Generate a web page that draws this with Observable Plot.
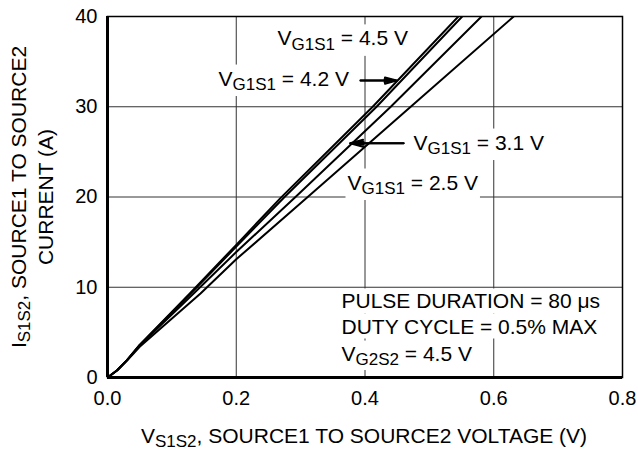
<!DOCTYPE html>
<html><head><meta charset="utf-8">
<script src="https://cdn.jsdelivr.net/npm/d3@7"></script>
<script src="https://cdn.jsdelivr.net/npm/@observablehq/plot@0.6"></script>
<style>body{margin:0;background:#fff}svg{display:block}</style>
</head><body><div id="chart"></div>
<script>
// Output characteristics: I_S1S2 vs V_S1S2 for several V_G1S1
const vgs = ["4.5", "4.2", "3.1", "2.5"];
const v_45 = [0, 0.015, 0.03, 0.05, 0.129, 0.2, 0.269, 0.412, 0.545];
const i_45 = [0, 0.8, 1.9, 3.6, 9.4, 14.7, 19.9, 30, 40];
const v_42 = [0, 0.015, 0.03, 0.05, 0.13, 0.2, 0.275, 0.418, 0.551];
const i_42 = [0, 0.8, 1.9, 3.6, 9.35, 14.5, 20, 30, 40];
const v_31 = [0, 0.015, 0.03, 0.05, 0.135, 0.2, 0.292, 0.44, 0.581];
const i_31 = [0, 0.8, 1.9, 3.55, 9.4, 13.9, 20, 30, 40];
const v_25 = [0, 0.015, 0.03, 0.05, 0.1445, 0.2, 0.311, 0.471, 0.631];
const i_25 = [0, 0.78, 1.85, 3.4, 9.3, 13.1, 20, 30, 40];

const xTicks = [0, 0.2, 0.4, 0.6, 0.8];
const yTicks = [0, 10, 20, 30, 40];
const xGrid = [0.2, 0.4, 0.6];
const yGrid = [10, 20, 30];

const labelText = ["V_{G1S1} = 4.5 V", "V_{G1S1} = 4.2 V", "V_{G1S1} = 3.1 V", "V_{G1S1} = 2.5 V"];
const labelX = [0.264, 0.1724, 0.4753, 0.3728];
const labelY = [36.8, 32.35, 25.26, 20.83];

const noteText = ["PULSE DURATION = 80 μs", "DUTY CYCLE = 0.5% MAX", "V_{G2S2} = 4.5 V"];
const noteX = [0.3635, 0.3635, 0.3635];
const noteY = [7.65, 4.875, 1.88];

const arrowX1 = [0.393, 0.460];
const arrowX2 = [0.449, 0.377];
const arrowY = [32.9, 25.96];

const xTitle = "V_{S1S2}, SOURCE1 TO SOURCE2 VOLTAGE (V)";
const yTitle1 = "I_{S1S2}, SOURCE1 TO SOURCE2";
const yTitle2 = "CURRENT (A)";

// build tables
const seriesV = [v_45, v_42, v_31, v_25];
const seriesI = [i_45, i_42, i_31, i_25];
const curves = vgs.flatMap((g, k) => seriesV[k].map((v, j) => ({g, v, i: seriesI[k][j]})));
const labels = labelText.map((t, k) => ({t, x: labelX[k], y: labelY[k]}));
const notes = noteText.map((t, k) => ({t, x: noteX[k], y: noteY[k]}));
const arrows = arrowY.map((y, k) => ({x1: arrowX1[k], x2: arrowX2[k], y}));

const FONT = "'Liberation Sans', Arial, Helvetica, sans-serif";
const FS = 21;

const chart = Plot.plot({
  width: 638, height: 451,
  marginLeft: 107, marginRight: 16, marginTop: 16, marginBottom: 74,
  style: {fontFamily: FONT, fontSize: "20px", color: "black", background: "white"},
  x: {domain: [0, 0.8]},
  y: {domain: [0, 40]},
  marks: [
    Plot.ruleX(xGrid, {stroke: "#333", strokeWidth: 1}),
    Plot.ruleY(yGrid, {stroke: "#333", strokeWidth: 1}),
    Plot.line(curves, {x: "v", y: "i", z: "g", stroke: "black", strokeWidth: 2, clip: true}),
    Plot.text(labels, {x: "x", y: "y", text: "t", textAnchor: "start", lineAnchor: "bottom", fill: "black", fontSize: FS}),
    Plot.text(notes, {x: "x", y: "y", text: "t", textAnchor: "start", lineAnchor: "bottom", fill: "black", fontSize: FS}),
    Plot.arrow(arrows, {x1: "x1", x2: "x2", y1: "y", y2: "y", stroke: "black", strokeWidth: 2, headLength: 10, headAngle: 30}),
    Plot.arrow(arrows, {x1: "x1", x2: "x2", y1: "y", y2: "y", stroke: "black", strokeWidth: 2, headLength: 10, headAngle: 14}),
    Plot.frame({stroke: "black", strokeWidth: 1.5}),
    Plot.ruleX([0], {stroke: "black", strokeWidth: 3}),
    Plot.ruleY([0], {stroke: "black", strokeWidth: 3}),
    Plot.axisX(xTicks, {tickSize: 0, tickPadding: 13, tickFormat: d3.format(".1f"), fontSize: 20, label: null}),
    Plot.axisY(yTicks, {tickSize: 0, tickPadding: 10, fontSize: 20, label: null}),
    Plot.text([xTitle], {frameAnchor: "bottom", textAnchor: "middle", dy: 65, dx: -1, lineAnchor: "bottom", fontSize: FS, fill: "black"}),
    Plot.text([yTitle1], {frameAnchor: "left", textAnchor: "middle", rotate: -90, dx: -82, lineAnchor: "bottom", fontSize: FS, fill: "black"}),
    Plot.text([yTitle2], {frameAnchor: "left", textAnchor: "middle", rotate: -90, dx: -55, lineAnchor: "bottom", fontSize: FS, fill: "black"})
  ]
});
document.getElementById("chart").appendChild(chart);

const SVGNS = "http://www.w3.org/2000/svg";
const allTexts = Array.from(chart.querySelectorAll("text"));
const original = new Map(allTexts.map(t => [t, t.textContent]));

// subscripts: "_{...}" becomes a lowered, smaller tspan
function applySub(el) {
  const s = el.textContent;
  if (!s.includes("_{")) return;
  while (el.firstChild) el.removeChild(el.firstChild);
  const re = /_\{([^}]*)\}/g;
  let last = 0, m, pendingDy = 0;
  const add = (txt, sub) => {
    const ts = document.createElementNS(SVGNS, "tspan");
    ts.textContent = txt;
    if (sub) { ts.setAttribute("font-size", "17"); ts.setAttribute("dy", "4.5"); }
    else if (pendingDy) { ts.setAttribute("dy", String(pendingDy)); }
    el.appendChild(ts);
  };
  while ((m = re.exec(s))) {
    if (m.index > last) { add(s.slice(last, m.index), false); pendingDy = 0; }
    add(m[1], true);
    pendingDy = -4.5;
    last = re.lastIndex;
  }
  if (last < s.length) add(s.slice(last), false);
}
allTexts.forEach(applySub);

// white boxes behind annotation texts
function addBox(t, pad) {
  const b = t.getBBox();
  const r = document.createElementNS(SVGNS, "rect");
  r.setAttribute("x", b.x - pad); r.setAttribute("y", b.y - pad);
  r.setAttribute("width", b.width + 2 * pad); r.setAttribute("height", b.height + 2 * pad);
  r.setAttribute("fill", "white"); r.setAttribute("stroke", "none");
  const tr = t.getAttribute("transform"); if (tr) r.setAttribute("transform", tr);
  const g = t.parentNode;
  g.insertBefore(r, g.firstChild);
}
allTexts.forEach(t => {
  const s = original.get(t);
  if (labelText.includes(s)) addBox(t, 2);
  else if (noteText.includes(s)) addBox(t, 1);
});
</script>
</body></html>
